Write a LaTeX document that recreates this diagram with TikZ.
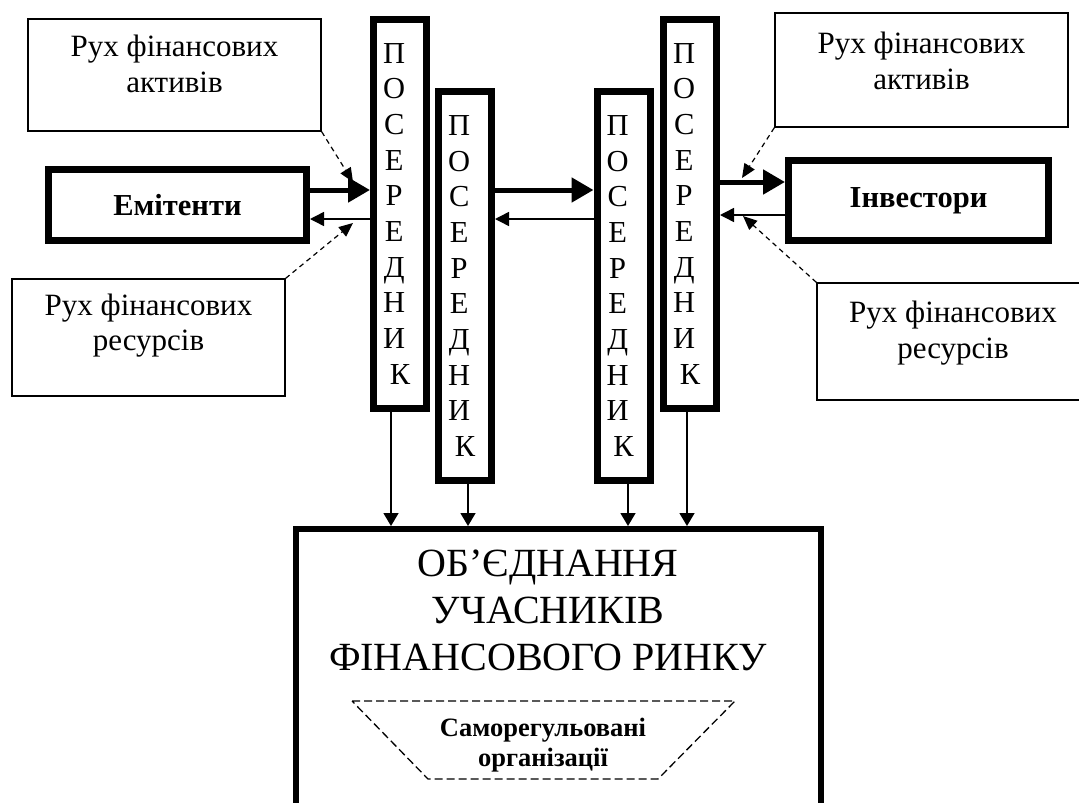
\documentclass[tikz,border=0pt]{standalone}
\usepackage{fontspec}
\setmainfont{Liberation Serif}
\usetikzlibrary{arrows.meta}
\newcommand\psl[1]{#1\kern.38em}
\newcommand\posered{\psl{П}\\\psl{О}\\\psl{С}\\\psl{Е}\\\psl{Р}\\\psl{Е}\\\psl{Д}\\\psl{Н}\\\psl{И}\\К}
\begin{document}
\begin{tikzpicture}[x=1pt,y=-1pt,
  lbox/.style={draw, line width=1.3pt, inner sep=0pt},
  ltext/.style={align=center, inner sep=0pt, font=\fontsize{31}{35.5}\selectfont},
  mainbox/.style={draw, line width=7pt, inner sep=0pt, font=\bfseries\fontsize{30.5}{35}\selectfont},
  midbox/.style={draw, line width=7pt, inner sep=0pt, minimum width=53pt, minimum height=389pt, align=center, font=\fontsize{30.5}{35.7}\selectfont},
  thickarr/.style={line width=5pt, -{Triangle[length=22pt,width=24pt]}},
  thinarr/.style={line width=1.5pt, -{Triangle[length=14pt,width=14pt]}},
  dasharr/.style={line width=1.2pt, dash pattern=on 5pt off 4pt, -{Triangle[length=14pt,width=12pt]}},
  downarr/.style={line width=1.5pt, -{Triangle[length=13pt,width=15pt]}}
]
\clip (0,0) rectangle (1079,803);
\fill[white] (0,0) rectangle (1079,803);

% label boxes
\node[lbox, minimum width=293pt, minimum height=112pt] (la1) at (174.5,75) {};
\node[ltext] (la1t) at (174.5,64) {Рух фінансових\\активів};
\node[lbox, minimum width=273pt, minimum height=117pt] (la2) at (148.5,337.5) {};
\node[ltext] (la2t) at (148.5,325.5) {Рух фінансових\\ресурсів};
\node[lbox, minimum width=293pt, minimum height=114pt] (la3) at (921.5,70) {};
\node[ltext] (la3t) at (921.5,61) {Рух фінансових\\активів};
\node[lbox, minimum width=273pt, minimum height=117pt] (la4) at (953.5,341.5) {};
\node[ltext] (la4t) at (953,333) {Рух фінансових\\ресурсів};

% main boxes
\node[mainbox, minimum width=258pt, minimum height=71pt] (emit) at (177.5,205) {Емітенти};
\node[mainbox, minimum width=260pt, minimum height=80pt] (inv) at (918.5,200.5) {Інвестори};

% intermediaries
\node[midbox] (p1) at (400,213.75) {\posered};
\node[midbox] (p2) at (465,286) {\posered};
\node[midbox] (p3) at (623.5,286) {\posered};
\node[midbox] (p4) at (690,213.75) {\posered};

% big box
\node[draw, line width=6pt, minimum width=525pt, minimum height=301pt, inner sep=0pt] (big) at (558.5,679.5) {};
\node[align=center, inner sep=0pt, font=\fontsize{40}{47}\selectfont] (bigt) at (548,610) {ОБ’ЄДНАННЯ\\УЧАСНИКІВ\\ФІНАНСОВОГО РИНКУ};

% trapezoid
\draw[line width=1.3pt, dash pattern=on 8pt off 4pt] (352,701) -- (735,701) -- (658,779) -- (428,779) -- cycle;
\node[align=center, inner sep=0pt, font=\bfseries\fontsize{26.5}{30}\selectfont] (sro) at (543,745) {Саморегульовані\\організації};

% horizontal arrows
\coordinate (yT) at (0,190);
\coordinate (yB) at (0,219);
\coordinate (yTr) at (0,182);
\coordinate (yBr) at (0,215);
\draw[thickarr] (emit.east |- yT) -- (p1.west |- yT);
\draw[thinarr] (p1.west |- yB) -- (emit.east |- yB);
\draw[thickarr] (p2.east |- yT) -- (p3.west |- yT);
\draw[thinarr] (p3.west |- yB) -- (p2.east |- yB);
\draw[thickarr] (p4.east |- yTr) -- (inv.west |- yTr);
\draw[thinarr] (inv.west |- yBr) -- (p4.east |- yBr);

% down arrows
\coordinate (x1) at (391,0);
\coordinate (x2) at (468,0);
\coordinate (x3) at (628,0);
\coordinate (x4) at (687,0);
\draw[downarr] (p1.south -| x1) -- (big.north -| x1);
\draw[downarr] (p2.south -| x2) -- (big.north -| x2);
\draw[downarr] (p3.south -| x3) -- (big.north -| x3);
\draw[downarr] (p4.south -| x4) -- (big.north -| x4);

% dashed arrows
\coordinate (t1) at (353,182);
\coordinate (t2) at (353,223);
\coordinate (t3) at (742,178);
\coordinate (t4) at (743,216);
\draw[dasharr] (la1.south east) -- (t1);
\draw[dasharr] (la2.north east) -- (t2);
\draw[dasharr] (la3.south west) -- (t3);
\draw[dasharr] (la4.north west) -- (t4);
\end{tikzpicture}
\end{document}
